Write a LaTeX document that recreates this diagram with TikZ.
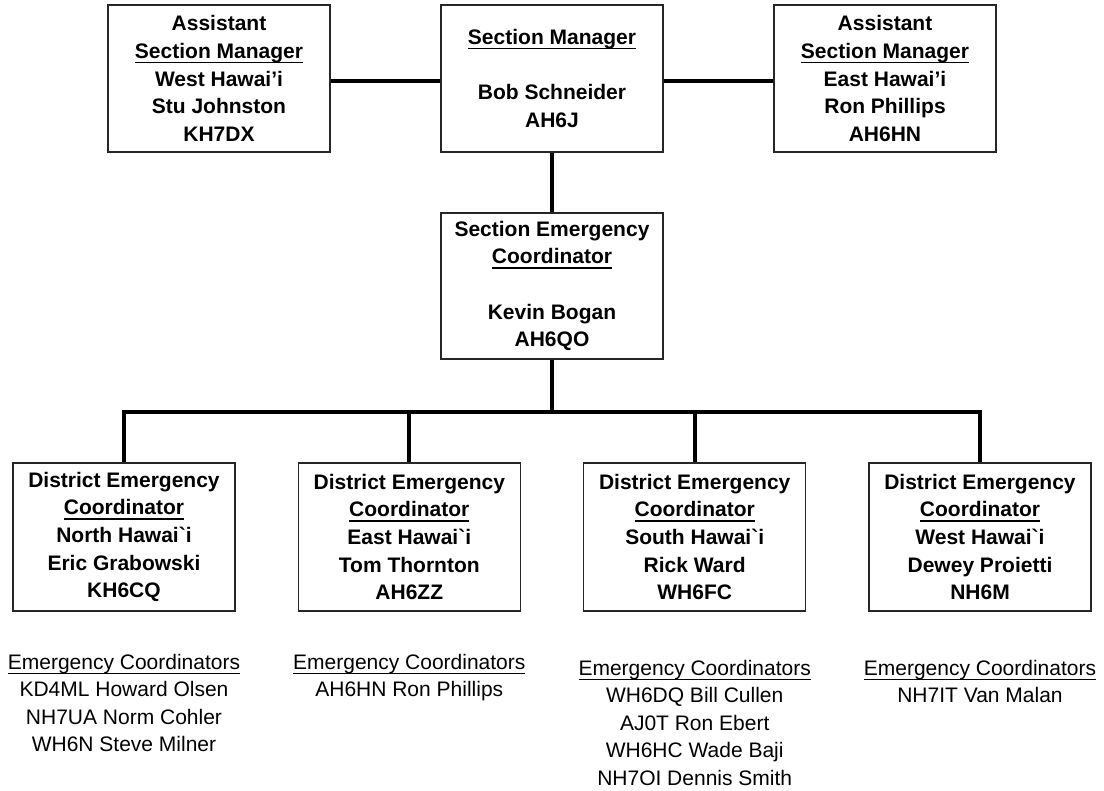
\documentclass[tikz,border=0pt]{standalone}
\usepackage{fontspec}
\setmainfont{Liberation Sans}
\newsavebox\ulsave
\newcommand\myul[1]{\sbox\ulsave{#1}\rlap{\rule[-4.8pt]{\wd\ulsave}{1.4pt}}\usebox\ulsave}
\newcommand\myulr[1]{\sbox\ulsave{#1}\rlap{\rule[-5pt]{\wd\ulsave}{1.2pt}}\usebox\ulsave}
\begin{document}
\begin{tikzpicture}[x=1pt,y=-1pt,
  box/.style={draw=black!85, line width=1.2pt, fill=white, minimum width=222pt,
    inner sep=0pt, align=center, font=\fontsize{21}{27.6}\selectfont\bfseries},
  conn/.style={line width=4pt, draw=black},
  eclist/.style={align=center, inner sep=0pt, anchor=north,
    font=\fontsize{21}{27.5}\selectfont}]
\useasboundingbox[fill=white] (0,0) rectangle (1104,791);

% top row
\node[box, minimum height=147pt] (asw) at (219,78.5)
  {Assistant\\\myul{Section Manager}\\West Hawai’i\\Stu Johnston\\KH7DX};
\node[box, minimum height=147pt] (sm) at (552,78.5)
  {\myul{Section Manager}\\[27.6pt]Bob Schneider\\AH6J};
\node[box, minimum height=147pt] (ase) at (885,78.5)
  {Assistant\\\myul{Section Manager}\\East Hawai’i\\Ron Phillips\\AH6HN};

% SEC
\node[box, minimum height=146pt] (sec) at (552,286)
  {Section Emergency\\\myul{Coordinator}\\[27.6pt]Kevin Bogan\\AH6QO};

% districts
\node[box, minimum height=148pt] (d1) at (124,537)
  {District Emergency\\\myul{Coordinator}\\North Hawai\textasciigrave i\\Eric Grabowski\\KH6CQ};
\node[box, minimum height=148pt] (d2) at (409.3,537)
  {District Emergency\\\myul{Coordinator}\\East Hawai\textasciigrave i\\Tom Thornton\\AH6ZZ};
\node[box, minimum height=148pt] (d3) at (694.7,537)
  {District Emergency\\\myul{Coordinator}\\South Hawai\textasciigrave i\\Rick Ward\\WH6FC};
\node[box, minimum height=148pt] (d4) at (980,537)
  {District Emergency\\\myul{Coordinator}\\West Hawai\textasciigrave i\\Dewey Proietti\\NH6M};

% connectors
\coordinate (bus) at (552,412);
\draw[conn] ([yshift=-3pt]asw.east) -- ([yshift=-3pt]sm.west);
\draw[conn] ([yshift=-3pt]sm.east) -- ([yshift=-3pt]ase.west);
\draw[conn] (sm.south) -- (sec.north);
\draw[conn] (sec.south) -- (bus);
\draw[conn, line join=miter] (d1.north) |- (bus) -| (d4.north);
\draw[conn] (d2.north) -- (d2.north |- bus);
\draw[conn] (d3.north) -- (d3.north |- bus);

% emergency coordinator lists
\node[eclist] (l1) at (124,654)
  {\myulr{Emergency Coordinators}\\KD4ML Howard Olsen\\NH7UA Norm Cohler\\WH6N Steve Milner};
\node[eclist] (l2) at (409.3,654)
  {\myulr{Emergency Coordinators}\\AH6HN Ron Phillips};
\node[eclist] (l3) at (694.7,660)
  {\myulr{Emergency Coordinators}\\WH6DQ Bill Cullen\\AJ0T Ron Ebert\\WH6HC Wade Baji\\NH7OI Dennis Smith};
\node[eclist] (l4) at (980,660)
  {\myulr{Emergency Coordinators}\\NH7IT Van Malan};
\end{tikzpicture}
\end{document}
